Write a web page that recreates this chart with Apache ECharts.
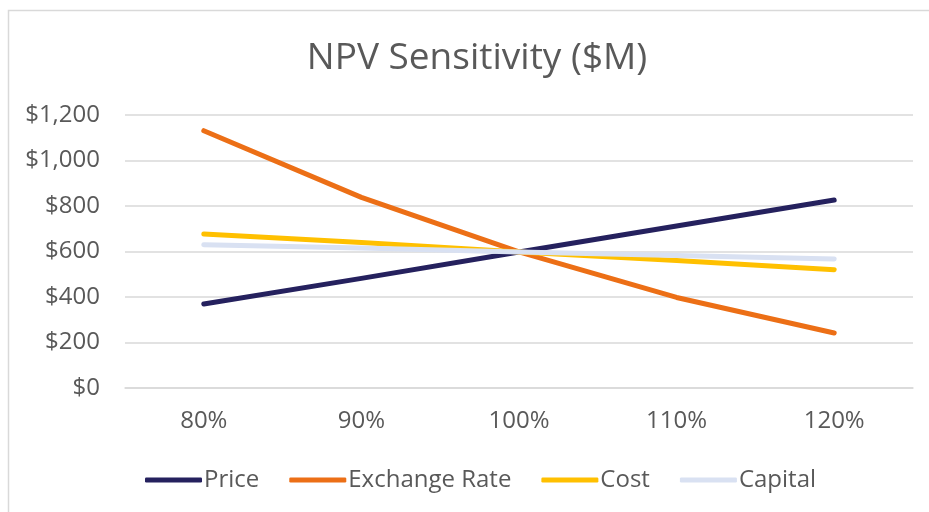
<!DOCTYPE html>
<html>
<head>
<meta charset="utf-8">
<script src="https://cdn.jsdelivr.net/npm/echarts@6/dist/echarts.min.js"></script>
<style>html,body{margin:0;padding:0;background:#fff;}#c{width:929px;height:512px;}</style>
</head>
<body>
<div id="c"></div>
<script>
const categories = ['80%', '90%', '100%', '110%', '120%'];
const priceValues = [369, 482, 598, 712, 826];
const exchangeValues = [1131, 838, 598, 398, 242];
const costValues = [677, 640, 598, 560, 520];
const capitalValues = [630, 615, 598, 582, 567];
const yTicks = [0, 200, 400, 600, 800, 1000, 1200];

const FONT = '"Open Sans", "Noto Sans", sans-serif';
const TXT = '#595959';

const chart = echarts.init(document.getElementById('c'), null, {renderer: 'canvas'});
function mk(name, data, color) {
  return {
    name, type: 'line', data, symbol: 'none', smooth: false,
    lineStyle: {color, width: 5, cap: 'round', join: 'round'},
    itemStyle: {color},
    emphasis: {disabled: true}
  };
}
chart.setOption({
  animation: false,
  backgroundColor: '#fff',
  graphic: [{
    type: 'rect', shape: {x: 8.5, y: 10.5, width: 1000, height: 1000},
    style: {fill: 'none', stroke: '#d9d9d9', lineWidth: 1.5}, silent: true, z: -10
  }],
  title: {
    text: 'NPV Sensitivity ($M)', left: 472, textAlign: 'center', top: 35,
    textStyle: {fontFamily: FONT, fontSize: 37, fontWeight: 'normal', color: TXT}
  },
  legend: {
    bottom: 15, left: 140, itemWidth: 57, itemHeight: 5, itemGap: 30,
    icon: 'roundRect',
    textStyle: {fontFamily: FONT, fontSize: 24, color: TXT, padding: [0, 0, 0, -3]},
    data: ['Price', 'Exchange Rate', 'Cost', 'Capital']
  },
  grid: {left: 125, right: 16, top: 115, bottom: 124, containLabel: false},
  xAxis: {
    type: 'category', data: categories, boundaryGap: true,
    axisLine: {show: true, lineStyle: {color: '#d9d9d9', width: 1.5}},
    axisTick: {show: false},
    axisLabel: {fontFamily: FONT, fontSize: 24, color: TXT, margin: 21}
  },
  yAxis: {
    type: 'value', min: yTicks[0], max: yTicks[yTicks.length - 1], interval: 200,
    axisLine: {show: false}, axisTick: {show: false},
    splitLine: {lineStyle: {color: '#d9d9d9', width: 1.5}},
    axisLabel: {fontFamily: FONT, fontSize: 24, color: TXT, margin: 25,
      formatter: v => '$' + v.toLocaleString('en-US')}
  },
  series: [
    mk('Price', priceValues, '#25215E'),
    mk('Exchange Rate', exchangeValues, '#EC6F16'),
    mk('Cost', costValues, '#FFC000'),
    mk('Capital', capitalValues, '#D9E1F2')
  ]
});
</script>
</body>
</html>
